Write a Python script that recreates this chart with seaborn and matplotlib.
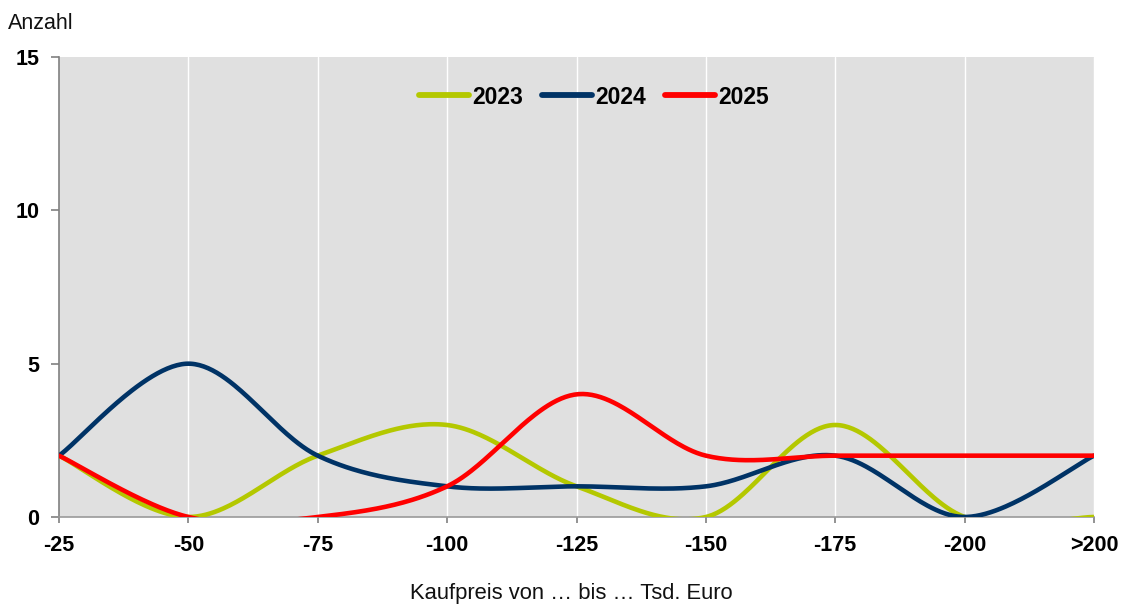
import numpy as np
import pandas as pd
import matplotlib
matplotlib.use("Agg")
import matplotlib.pyplot as plt
import seaborn as sns

categories = ["-25", "-50", "-75", "-100", "-125", "-150", "-175", "-200", ">200"]
years = ["2023", "2024", "2025"]
values_2023 = [2, 0, 2, 3, 1, 0, 3, 0, 0]
values_2024 = [2, 5, 2, 1, 1, 1, 2, 0, 2]
values_2025 = [2, 0, 0, 1, 4, 2, 2, 2, 2]
colors = ["#B4C800", "#003366", "#FF0000"]


def smooth(xs, ys, n=60):
    """Cubic Bezier smoothing through every point (Catmull-Rom style tangents)."""
    pts = np.column_stack([xs, ys]).astype(float)
    ext = np.vstack([pts[0], pts, pts[-1]])
    t = np.linspace(0, 1, n)[:, None]
    out = []
    for i in range(len(pts) - 1):
        p0, p1, p2, p3 = ext[i], ext[i + 1], ext[i + 2], ext[i + 3]
        c1 = p1 + (p2 - p0) / 6.0
        c2 = p2 - (p3 - p1) / 6.0
        seg = ((1 - t) ** 3) * p1 + 3 * ((1 - t) ** 2) * t * c1 + 3 * (1 - t) * t ** 2 * c2 + t ** 3 * p2
        out.append(seg if i == 0 else seg[1:])
    return np.vstack(out)


frames = []
for year, vals in zip(years, [values_2023, values_2024, values_2025]):
    curve = smooth(np.arange(len(categories)), vals)
    frames.append(pd.DataFrame({"pos": curve[:, 0], "Anzahl": curve[:, 1], "Jahr": year}))
df = pd.concat(frames, ignore_index=True)

sns.set_theme(style="white")
plt.rcParams["font.family"] = ["Liberation Sans", "DejaVu Sans"]

fig = plt.figure(figsize=(11.22, 6.04), dpi=100)
ax = fig.add_axes([59 / 1122, 1 - 517 / 604, (1094 - 59) / 1122, (517 - 57) / 604])
ax.set_facecolor("#E0E0E0")

sns.lineplot(data=df, x="pos", y="Anzahl", hue="Jahr", hue_order=years,
             palette=colors, sort=False, estimator=None, units="Jahr",
             linewidth=3.3, ax=ax, legend=True)
for ln in ax.lines:
    ln.set_solid_capstyle("round")
    ln.set_zorder(3)

ax.set_xlim(0, len(categories) - 1)
ax.set_ylim(0, 15)
ax.set_xticks(range(len(categories)))
ax.set_xticklabels(categories)
ax.set_yticks([0, 5, 10, 15])

for x in range(1, len(categories)):
    ax.axvline(x, color="white", linewidth=1.0, zorder=0.5)

for side in ["top", "right"]:
    ax.spines[side].set_visible(False)
ax.spines["left"].set_color("#808080")
ax.spines["bottom"].set_color("#9A9A9A")
ax.spines["left"].set_linewidth(1.2)
ax.spines["bottom"].set_linewidth(1.2)

ax.tick_params(axis="both", which="major", direction="out", width=1.2,
               color="#808080", labelsize=15.5, labelcolor="black",
               bottom=True, left=True)
ax.tick_params(axis="y", length=5.8, pad=8.5)
ax.tick_params(axis="x", length=4.3, pad=9)
for lab in ax.get_xticklabels() + ax.get_yticklabels():
    lab.set_fontweight("bold")

ax.set_xlabel("")
ax.set_ylabel("")
fig.text((59 + 1094) / 2 / 1122 - 0.005, 1 - 599 / 604, "Kaufpreis von … bis … Tsd. Euro",
         fontsize=15.8, color="#111111", ha="center", va="baseline")
fig.text(8 / 1122, 1 - 29 / 604, "Anzahl", fontsize=15.5, color="#111111",
         ha="left", va="baseline")

handles, labels = ax.get_legend_handles_labels()
leg = ax.legend(handles, labels, loc="center", bbox_to_anchor=((594 - 59) / 1035, 0.913),
                ncol=3, frameon=False, handlelength=2.2, handletextpad=0.15,
                columnspacing=0.8, prop={"weight": "bold", "size": 16.5})
for h in leg.get_lines():
    h.set_linewidth(4.2)
    h.set_solid_capstyle("round")
for txt in leg.get_texts():
    txt.set_color("black")

fig.savefig("out.png", dpi=100)
